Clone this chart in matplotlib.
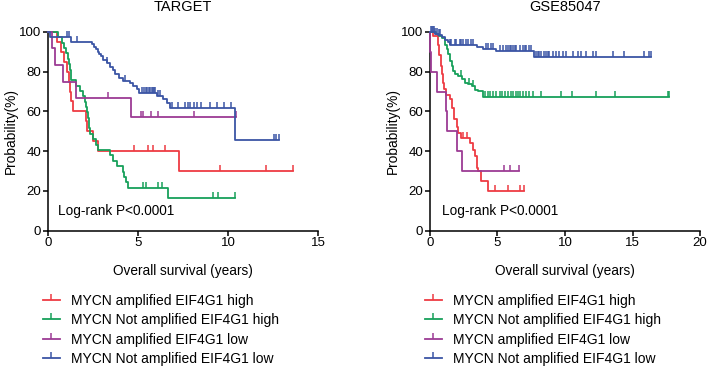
import numpy as np
import matplotlib
matplotlib.use('Agg')
import matplotlib.pyplot as plt
from matplotlib.lines import Line2D

plt.rcParams['font.family'] = ['Liberation Sans', 'DejaVu Sans']

groups = ["MYCN amplified EIF4G1 high", "MYCN Not amplified EIF4G1 high",
          "MYCN amplified EIF4G1 low", "MYCN Not amplified EIF4G1 low"]
colors = ['#ee3b43', '#17a05a', '#9c3b94', '#3b55a5']
titles = ["TARGET", "GSE85047"]
pvalue_text = "Log-rank P<0.0001"

# ---------------- TARGET ----------------
t_red_times = [0.5, 0.7, 0.9, 1.05, 1.15, 1.22, 1.3, 1.38, 2.1, 2.15, 2.5, 2.8, 7.25]
t_red_surv = [95, 90, 85, 80, 75, 70, 65, 60, 55, 50, 45, 40, 30]
t_red_end = 13.57
t_red_cens = [4.79, 5.56, 5.8, 6.52, 9.52, 12.07, 13.57]

t_green_times = [0.55, 0.75, 0.9, 1.0, 1.1, 1.15, 1.2, 1.25, 1.3, 1.55, 1.75, 1.95, 2.05,
                 2.1, 2.15, 2.2, 2.25, 2.3, 2.35, 2.5, 2.65, 2.8, 3.45, 3.6, 3.85, 4.15,
                 4.2, 4.33, 4.46, 6.68]
t_green_surv = [97.3, 94.6, 91.9, 89.2, 86.5, 83.8, 81.1, 78.4, 75.7, 73.0, 70.3, 67.6, 64.9,
                62.2, 59.5, 56.8, 54.1, 51.4, 48.6, 45.9, 43.2, 40.5, 37.8, 35.1, 32.4, 29.7,
                27.0, 24.3, 21.6, 16.2]
t_green_end = 10.4
t_green_cens = [5.25, 5.42, 6.1, 6.34, 9.13, 9.45, 10.4]

t_purple_times = [0.2, 0.4, 0.82, 1.55, 4.6]
t_purple_surv = [91.7, 83.3, 75.0, 66.7, 57.1]
t_purple_end = 10.45
t_purple_cens = [3.35, 5.17, 5.25, 5.71, 6.1, 8.1, 10.45]

t_blue_times = [0.1, 1.28, 2.42, 2.57, 2.66, 2.75, 2.85, 2.94, 3.07, 3.25, 3.44, 3.59, 3.72,
                3.96, 4.18, 4.55, 4.73, 4.92, 5.06, 6.03, 6.4, 6.58, 6.77, 10.37]
t_blue_surv = [97.5, 95.1, 93.8, 92.6, 91.3, 90.1, 89.0, 87.8, 86.0, 84.2, 82.5, 80.7, 78.6,
               77.0, 75.5, 74.1, 72.6, 71.1, 69.5, 68.0, 66.4, 64.1, 61.6, 45.7]
t_blue_end = 12.83
t_blue_cens = [1.03, 1.16, 1.6, 3.3, 4.25, 5.2, 5.3, 5.45, 5.5, 5.6, 5.65, 5.75, 5.8, 5.9,
               5.95, 6.1, 6.2, 6.86, 7.2, 7.6, 7.75, 7.9, 8.1, 8.26, 8.5, 8.97, 9.39, 9.74,
               10.18, 12.53, 12.68, 12.83]

# ---------------- GSE85047 ----------------
g_red_times = [0.25, 0.57, 0.7, 0.8, 0.86, 0.94, 1.04, 1.16, 1.48, 1.65, 1.8, 1.98, 2.1,
               2.3, 2.96, 3.16, 3.33, 3.46, 3.58, 3.78, 4.32]
g_red_surv = [97.9, 93.6, 88.3, 83.0, 78.7, 74.5, 71.3, 68.1, 66.0, 61.7, 56.4, 52.1, 49.0,
              46.8, 44.2, 40.8, 37.4, 31.6, 29.9, 24.8, 19.8]
g_red_end = 6.95
g_red_cens = [2.45, 2.72, 4.83, 5.8, 6.63, 6.95]

g_green_times = [0.45, 0.7, 0.86, 1.11, 1.23, 1.36, 1.48, 1.6, 1.73, 1.85, 2.1, 2.35, 2.59,
                 2.84, 3.09, 3.33, 3.58, 3.95]
g_green_surv = [99.0, 98.0, 97.0, 93.7, 91.2, 88.7, 85.3, 82.8, 80.3, 78.6, 77.7, 76.1, 74.4,
                73.6, 72.7, 71.0, 70.2, 67.2]
g_green_end = 17.73
g_green_cens = [2.3, 2.9, 3.2, 4.04, 4.29, 4.46, 4.66, 4.91, 5.15, 5.35, 5.57, 5.77, 5.97,
                6.14, 6.34, 6.51, 6.68, 6.88, 7.13, 7.37, 7.62, 8.24, 9.67, 10.5, 12.28,
                13.74, 17.6, 17.73]

g_purple_times = [0.03, 0.1, 0.54, 1.15, 1.28, 1.98, 2.4]
g_purple_surv = [90, 80, 70, 60, 50, 40, 30]
g_purple_end = 6.58
g_purple_cens = [5.45, 5.92, 6.58]

g_blue_times = [0.35, 0.6, 0.9, 1.1, 1.3, 1.45, 3.45, 3.9, 4.9, 7.7]
g_blue_surv = [99.2, 98.4, 97.6, 96.0, 95.2, 93.5, 92.6, 91.6, 90.6, 87.5]
g_blue_end = 16.37
g_blue_cens = [0.05, 0.12, 0.2, 0.28, 0.4, 0.5, 0.65, 0.75, 1.46, 1.58, 1.82, 1.95, 2.19,
               2.32, 2.44, 2.69, 2.81, 3.06, 3.18, 4.17, 4.29, 4.54, 4.66, 5.15, 5.4, 5.65,
               5.77, 5.9, 6.02, 6.14, 6.26, 6.39, 6.63, 6.88, 7.0, 7.13, 7.37, 7.5, 7.82,
               7.99, 8.11, 8.24, 8.48, 8.61, 8.73, 8.85, 9.1, 9.34, 9.59, 9.84, 10.09,
               10.58, 10.95, 11.2, 11.57, 12.06, 12.31, 13.54, 14.4, 15.88, 16.2, 16.37]

panels = [
    [(t_red_times, t_red_surv, t_red_end, t_red_cens),
     (t_green_times, t_green_surv, t_green_end, t_green_cens),
     (t_purple_times, t_purple_surv, t_purple_end, t_purple_cens),
     (t_blue_times, t_blue_surv, t_blue_end, t_blue_cens)],
    [(g_red_times, g_red_surv, g_red_end, g_red_cens),
     (g_green_times, g_green_surv, g_green_end, g_green_cens),
     (g_purple_times, g_purple_surv, g_purple_end, g_purple_cens),
     (g_blue_times, g_blue_surv, g_blue_end, g_blue_cens)],
]
xmax = [15, 20]

W, H = 709, 366
fig = plt.figure(figsize=(W / 100, H / 100), dpi=100)

axes_px = [(48, 318.3), (430, 700)]
top_px, bot_px = 32, 230.5
legend_px = [43, 425]

LW = 1.3
for i, ax_px in enumerate(axes_px):
    l, r = ax_px
    ax = fig.add_axes([l / W, 1 - bot_px / H, (r - l) / W, (bot_px - top_px) / H])
    for j, (times, surv, end, cens) in enumerate(panels[i]):
        xs = np.concatenate([[0], times, [end]])
        ys = np.concatenate([[100], surv, [surv[-1]]])
        ax.step(xs, ys, where='post', color=colors[j], lw=LW, clip_on=False,
                zorder=3)
        tt = np.asarray(times)
        ss = np.concatenate([[100], surv])
        idx = np.searchsorted(tt, np.asarray(cens), side='right')
        ax.plot(cens, ss[idx], linestyle='none', marker=2, markersize=4,
                markeredgewidth=1.1, color=colors[j], clip_on=False, zorder=3)
    ax.set_xlim(0, xmax[i])
    ax.set_ylim(0, 100)
    ax.set_xticks(np.arange(0, xmax[i] + 1, 5))
    ax.set_yticks(np.arange(0, 101, 20))
    for s in ['top', 'right']:
        ax.spines[s].set_visible(False)
    for s in ['left', 'bottom']:
        ax.spines[s].set_linewidth(1.1)
    ax.tick_params(length=3.5, width=1.1, labelsize=9.5, pad=1.5)
    ax.set_title(titles[i], fontsize=10.5, pad=15)
    ax.set_xlabel("Overall survival (years)", fontsize=9.8, labelpad=10.5)
    ax.set_ylabel("Probability(%)", fontsize=9.9, labelpad=1)
    ax.text(0.037 if i == 0 else 0.044, 0.096, pvalue_text, transform=ax.transAxes,
            fontsize=9.8, va='center', ha='left')

    handles = [Line2D([0], [0], color=c, lw=LW, marker=2, markersize=4,
                      markeredgewidth=1.1) for c in colors]
    fig.legend(handles, groups, loc='upper left',
               bbox_to_anchor=(legend_px[i] / W, 1 - 294 / H),
               frameon=False, fontsize=10, handlelength=1.2, handletextpad=0.85,
               labelspacing=0.38, borderpad=0, borderaxespad=0, numpoints=1)

fig.savefig('out.png', dpi=100)
